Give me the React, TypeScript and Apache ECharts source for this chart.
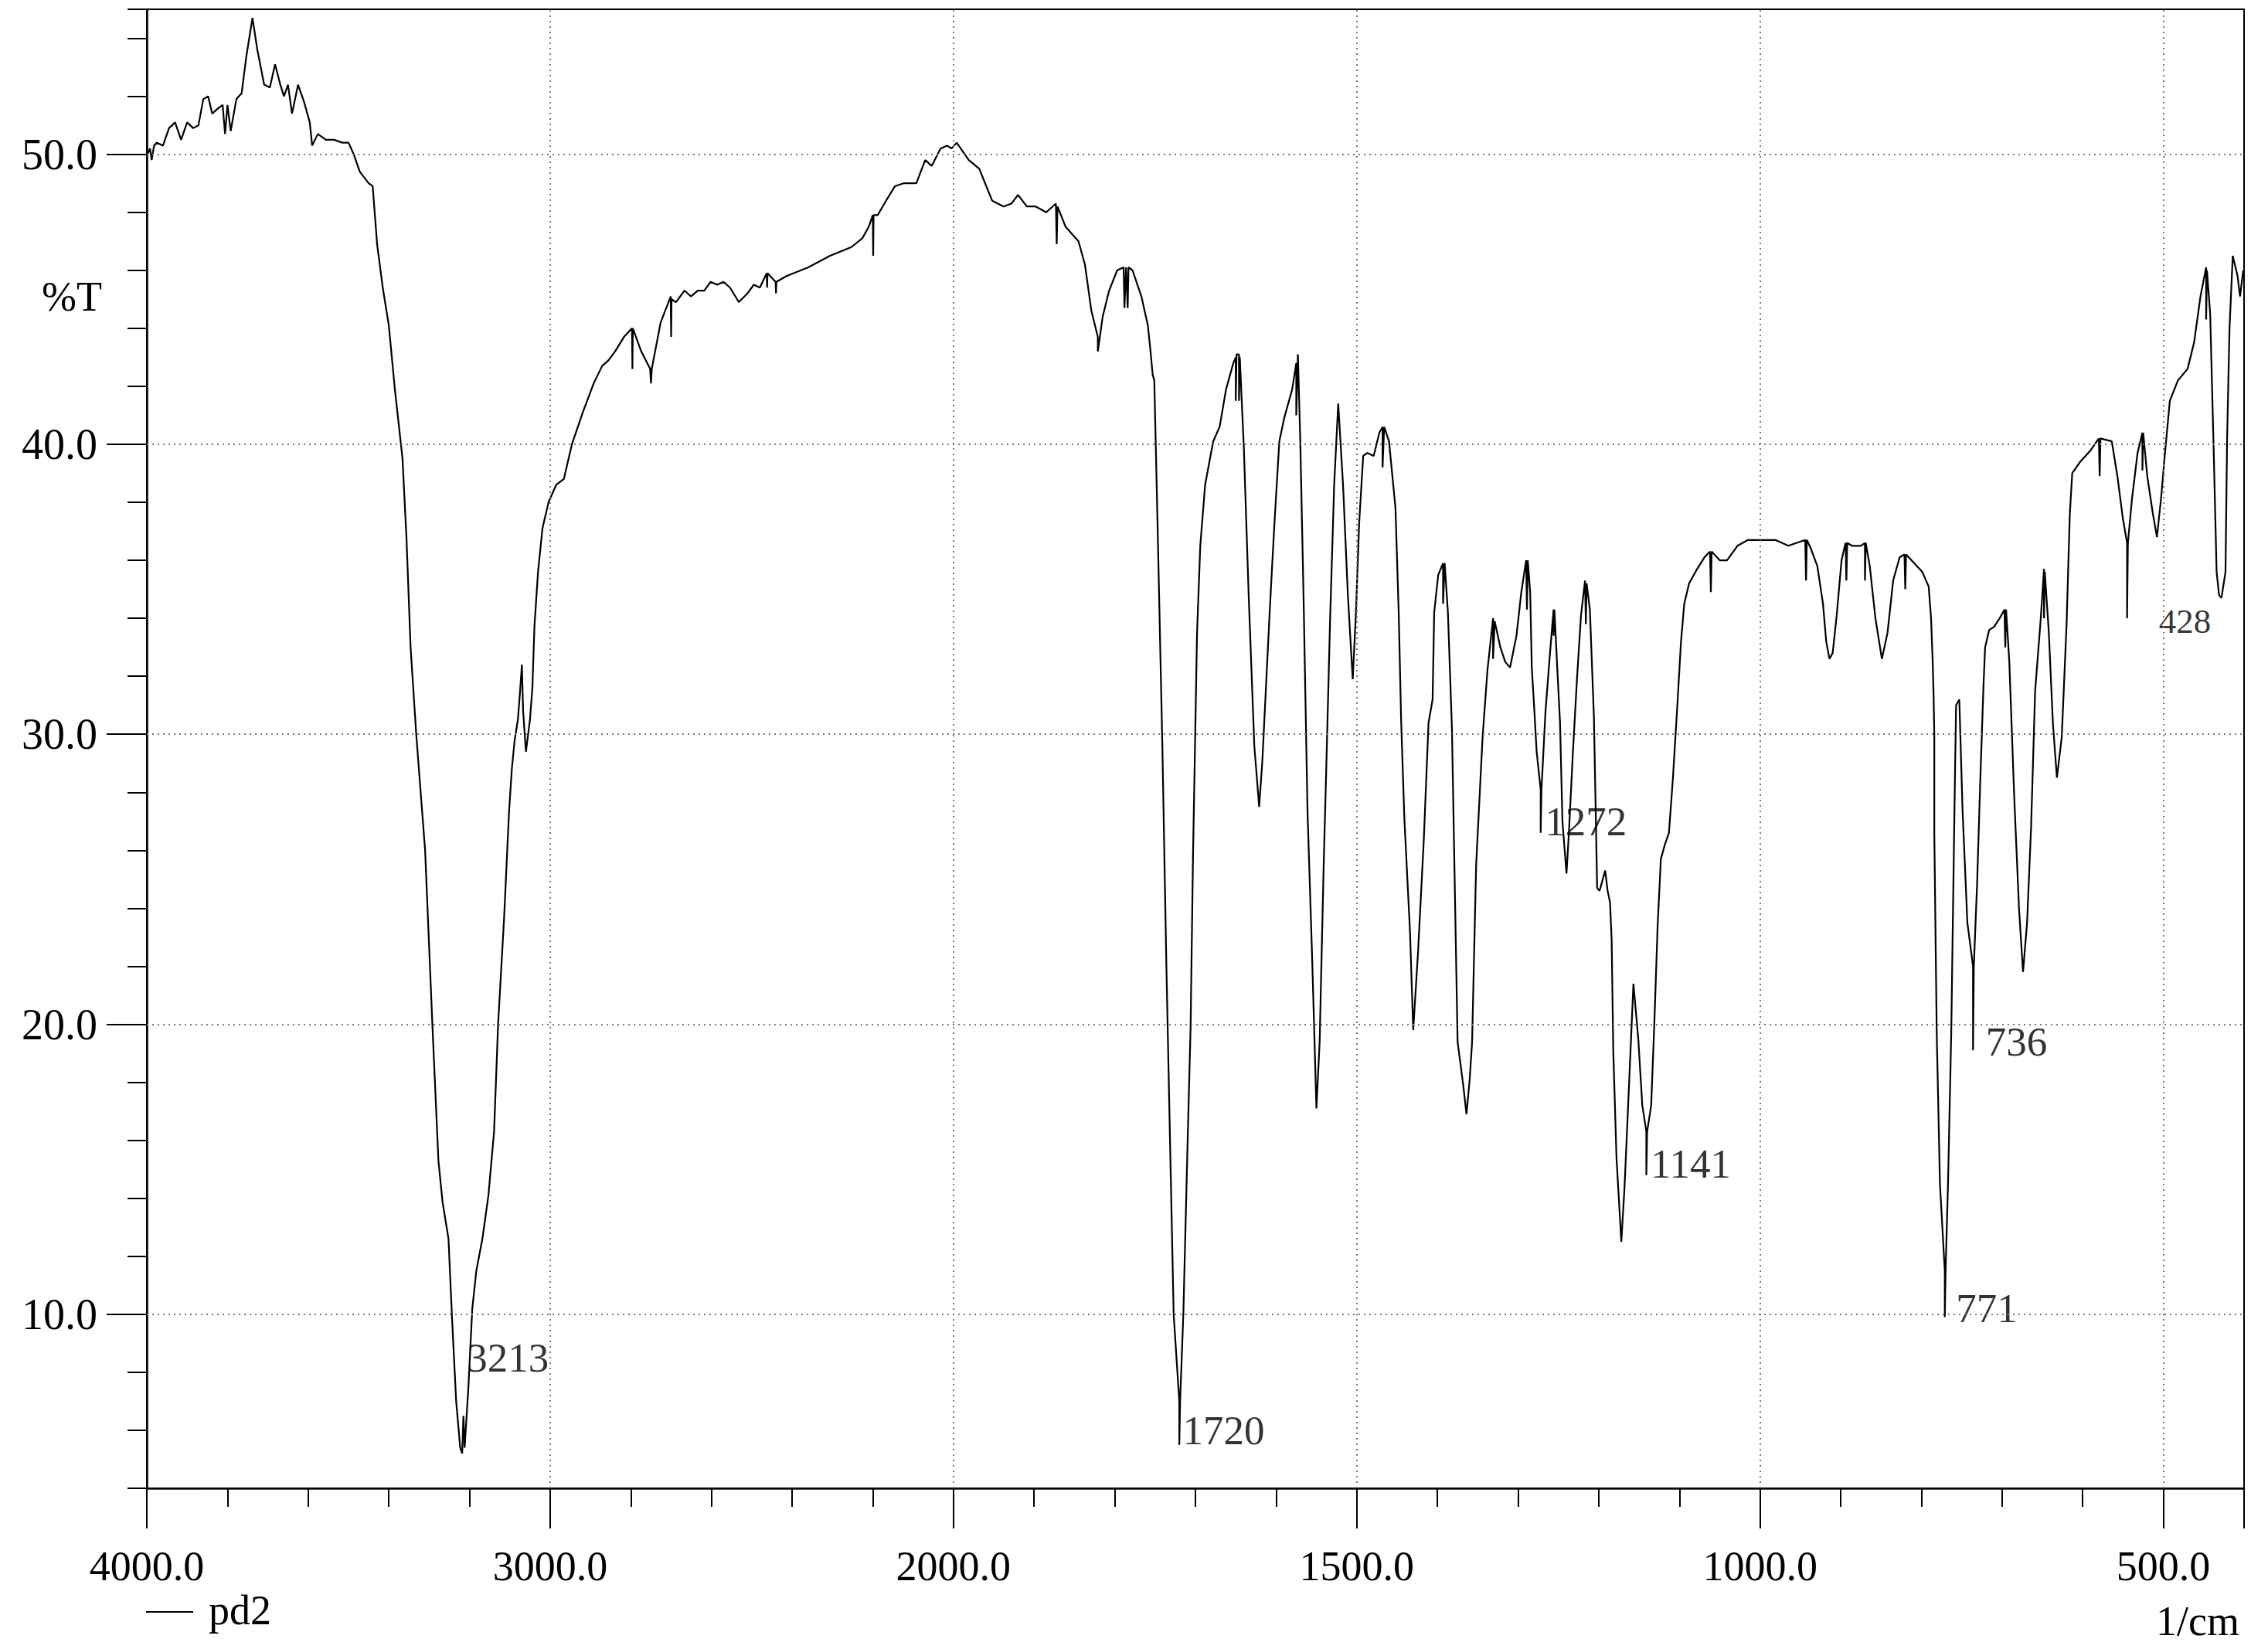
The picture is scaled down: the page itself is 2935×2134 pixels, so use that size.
import React, { useEffect, useRef } from "react";
import * as echarts from "echarts";

// ---- spectrum data (wavenumber in 1/cm, transmittance in %T) ----
const highWn = [3998,3992,3988,3982,3975,3960,3945,3930,3915,3900,3885,3872,3860,3848,3838,3822,3812,3806,3800,3792,3778,3765,3753,3738,3726,3709,3695,3682,3669,3660,3650,3640,3625,3610,3596,3590,3576,3556,3536,3515,3500,3487,3472,3450,3440,3429,3415,3400,3385,3366,3356,3346,3332,3310,3292,3277,3267,3252,3243,3233,3223,3218,3215,3212,3203,3193,3183,3168,3153,3139,3129,3114,3102,3095,3088,3080,3075,3070,3067,3060,3050,3044,3039,3030,3019,3004,2985,2966,2946,2919,2892,2871,2855,2839,2817,2797,2796,2795,2774,2752,2750,2748,2726,2701,2700,2699,2688,2667,2651,2634,2618,2602,2586,2570,2554,2532,2511,2495,2480,2463,2462,2461,2441,2440,2439,2414,2360,2306,2253,2226,2210,2200,2199,2198,2188,2167,2145,2124,2092,2070,2054,2032,2016,2005];
const highT = [50.0,50.2,49.8,50.3,50.4,50.3,50.9,51.1,50.5,51.1,50.9,51.0,51.9,52.0,51.4,51.6,51.7,50.7,51.7,50.8,51.9,52.1,53.4,54.7,53.6,52.4,52.3,53.1,52.4,52.0,52.4,51.4,52.4,51.8,51.1,50.3,50.7,50.5,50.5,50.4,50.4,50.0,49.4,49.0,48.9,46.9,45.4,44.1,41.9,39.5,36.7,33.0,30.0,26.0,20.0,15.3,13.9,12.6,9.8,7.0,5.4,5.2,6.5,5.4,7.4,10.2,11.5,12.6,14.1,16.3,20.0,23.7,27.3,28.8,29.8,30.5,31.4,32.4,30.8,29.4,30.5,31.6,33.7,35.6,37.1,38.0,38.6,38.8,40.0,41.1,42.1,42.7,42.9,43.2,43.7,44.0,42.6,44.0,43.2,42.6,42.1,42.6,44.2,45.1,43.7,45.0,44.9,45.3,45.1,45.3,45.3,45.6,45.5,45.6,45.4,44.9,45.2,45.5,45.4,45.9,45.4,45.9,45.6,45.2,45.6,45.8,46.1,46.5,46.8,47.1,47.5,47.9,46.5,47.9,47.9,48.4,48.9,49.0,49.0,49.8,49.6,50.2,50.3,50.2];

const midWn = [1996,1981,1968,1952,1938,1928,1920,1909,1898,1885,1873,1872,1871,1861,1845,1837,1829,1821,1821,1815,1807,1797,1789,1788,1786,1784,1783,1778,1767,1759,1756,1753,1751,1747,1741,1736,1727,1720,1720,1719,1715,1710,1706,1703,1698,1694,1688,1678,1670,1662,1653,1650,1650,1649,1646,1646,1645,1640,1634,1627,1621,1617,1608,1602,1596,1590,1580,1575,1575,1573,1570,1566,1561,1555,1550,1546,1541,1538,1533,1528,1523,1517,1511,1505,1501,1497,1492,1487,1479,1472,1468,1468,1466,1460,1452,1448,1445,1441,1434,1430,1424,1417,1411,1406,1404,1399,1393,1393,1391,1387,1382,1375,1368,1364,1360,1357,1352,1344,1338,1331,1331,1329,1322,1316,1310,1302,1296,1290,1289,1288,1285,1283,1280,1277,1272,1272,1271,1266,1261,1256,1256,1255,1252,1248,1245,1240,1237,1232,1227,1222,1217,1216,1215,1211,1208,1206,1204,1202,1199,1195,1192,1189,1186,1184,1182,1178,1172,1168,1162,1157,1151,1146,1141,1141,1140,1135,1131,1127,1123,1118,1113,1108,1103,1098,1094,1088,1078,1069,1062,1061,1060,1050,1041,1028,1015,1000];
const midT = [50.4,49.8,49.5,48.4,48.2,48.3,48.6,48.2,48.2,48.0,48.3,46.9,48.2,47.5,47.0,46.2,44.6,43.7,43.2,44.4,45.3,46.0,46.1,44.7,46.1,44.7,46.1,46.0,45.1,44.1,43.3,42.4,42.2,37.3,29.6,22.0,10.0,7.0,5.5,7.0,10.0,15.6,19.9,25.8,33.5,36.5,38.6,40.1,40.6,41.9,42.8,43.0,41.5,43.1,43.1,41.5,43.0,39.9,34.8,29.6,27.5,29.1,34.2,37.3,40.1,40.9,41.9,42.8,41.0,43.1,40.1,34.8,27.3,22.0,17.1,19.4,25.5,28.6,34.0,38.6,41.4,38.6,34.8,31.9,34.2,37.3,39.6,39.7,39.6,40.4,40.6,39.2,40.6,40.1,37.8,34.2,30.5,27.1,23.2,19.8,22.5,26.3,30.4,31.2,34.2,35.5,35.9,34.5,35.9,34.2,30.2,19.4,17.9,16.9,18.1,19.4,25.5,29.9,32.2,34.0,32.6,33.9,33.0,32.5,32.3,33.4,34.9,36.0,34.3,36.0,34.9,32.3,30.9,29.4,28.1,26.6,28.1,30.8,32.6,34.3,33.4,34.3,32.6,30.4,27.0,25.2,26.6,29.4,31.9,34.1,35.3,33.8,35.2,34.3,32.1,30.6,27.7,24.7,24.6,25.0,25.3,24.6,24.2,22.9,19.1,15.4,12.5,14.4,18.2,21.4,19.5,17.2,16.3,14.8,16.3,17.2,20.1,23.4,25.7,26.2,26.6,28.5,30.8,33.2,34.5,35.2,35.7,36.1,36.3,34.9,36.3,36.0,36.0,36.5,36.7,36.7];

const lowWn = [981,965,944,943,942,937,929,922,918,914,910,905,899,894,893,892,886,875,870,870,869,864,857,849,842,835,827,821,820,819,809,799,791,788,786,785,784,784,781,777,771,771,770,767,763,759,757,753,749,743,736,736,735,731,727,723,721,716,710,703,697,696,695,691,685,679,674,669,664,659,652,648,648,647,642,637,632,626,620,616,613,603,590,580,579,578,564,557,550,545,545,544,539,532,526,526,525,520,513,508,503,498,492,482,470,462,454,447,447,446,442,438,434,431,428,423,421,418,414,408,405,401];
const lowT = [36.7,36.5,36.7,35.3,36.7,36.4,35.8,34.5,33.2,32.6,32.8,34.1,36.0,36.6,35.3,36.6,36.5,36.5,36.6,35.3,36.6,35.8,34.0,32.6,33.5,35.3,36.1,36.2,35.0,36.2,35.9,35.6,35.1,34.0,32.5,31.5,30.0,26.6,19.7,14.5,11.5,9.9,11.5,14.5,19.7,27.4,31.0,31.2,27.4,23.5,22.0,19.1,22.0,24.8,28.4,31.7,33.0,33.6,33.7,34.0,34.3,33.0,34.3,32.5,27.9,24.0,21.8,23.5,26.8,31.5,34.0,35.7,34.0,35.6,33.5,30.4,28.5,29.9,33.8,37.6,39.0,39.4,39.8,40.2,38.9,40.2,40.1,38.9,37.4,36.6,34.0,36.6,38.1,39.7,40.4,39.1,40.4,38.9,37.6,36.8,38.1,39.7,41.5,42.2,42.6,43.5,45.1,46.1,44.3,46.0,44.5,40.2,35.6,34.8,34.7,35.6,40.2,44.0,46.5,45.8,45.1,46.0];

// ---- peak annotations ----
const peakWn = [3213, 1720, 1272, 1141, 771, 736, 428];
const peakLabelT = [8.5, 6.0, 27.0, 15.2, 10.2, 19.4, 33.9];
const peakLabelSide = ["right", "right", "right", "right", "right", "right", "left"];
const peakLabelGap = [3, 4, 5, 5, 14, 16, 13];
const peakLabelSize = [53, 53, 53, 53, 53, 53, 45];

// ---- axes ----
const gridT = [10, 20, 30, 40, 50];
const gridWn = [3000, 2000, 1500, 1000, 500];
const yMajorTicks = [10, 20, 30, 40, 50];

// 4000-2000 drawn at half the scale of 2000-400 (instrument's two-scale axis)
const toU = (nu: number) => (nu >= 2000 ? (4000 - nu) / 2 : 1000 + (2000 - nu));
const fromU = (u: number) => (u <= 1000 ? 4000 - 2 * u : 3000 - u);

const FONT = '"Liberation Serif", "Times New Roman", serif';

export default function App() {
  const ref = useRef<HTMLDivElement>(null);
  useEffect(() => {
    if (!ref.current) return;
    const chart = echarts.init(ref.current, null, { renderer: "svg" });
    const wn = [...highWn, ...midWn, ...lowWn];
    const tr = [...highT, ...midT, ...lowT];
    const spectrum = wn.map((n, i) => [toU(n), tr[i]]);
    const peaks = peakWn.map((n, i) => ({
      name: String(n),
      value: [toU(n), peakLabelT[i]],
      label: {
        position: peakLabelSide[i],
        distance: peakLabelGap[i],
        fontSize: peakLabelSize[i],
      },
    }));
    chart.setOption({
      animation: false,
      backgroundColor: "#fff",
      grid: {
        left: 190,
        right: 31,
        top: 12,
        bottom: 208,
        show: true,
        borderColor: "#000",
        borderWidth: 2,
        backgroundColor: "transparent",
        containLabel: false,
        outerBoundsMode: "none",
      },
      xAxis: {
        type: "value",
        min: 0,
        max: 2600,
        interval: 500,
        axisLine: { show: true, lineStyle: { color: "#000", width: 2.5 } },
        axisTick: { show: true, length: 52, lineStyle: { color: "#000", width: 2 } },
        minorTick: { show: true, splitNumber: 5, length: 24, lineStyle: { color: "#000", width: 2 } },
        splitLine: { show: false },
        minorSplitLine: { show: false },
        axisLabel: {
          margin: 74,
          fontSize: 54,
          fontFamily: FONT,
          color: "#000",
          showMinLabel: true,
          showMaxLabel: true,
          formatter: (u: number) => (u >= 2600 ? "" : fromU(u).toFixed(1)),
        },
      },
      yAxis: [
        {
          type: "value",
          min: 4,
          max: 55,
          interval: 2,
          position: "left",
          axisLine: { show: true, lineStyle: { color: "#000", width: 2.5 } },
          axisTick: { show: true, length: 25, lineStyle: { color: "#000", width: 2 } },
          splitLine: { show: false },
          axisLabel: {
            margin: 64,
            fontSize: 56,
            fontFamily: FONT,
            color: "#000",
            formatter: (v: number) => (Math.abs(v % 10) < 1e-9 ? v.toFixed(1) : ""),
          },
        },
        {
          type: "value",
          min: 4,
          max: 55,
          position: "left",
          offset: 0,
          axisLine: { show: false },
          axisTick: {
            show: true,
            length: 52,
            customValues: yMajorTicks,
            lineStyle: { color: "#000", width: 2 },
          },
          axisLabel: { show: false },
          splitLine: { show: false },
        },
      ],
      graphic: [
        {
          type: "text",
          x: 54,
          y: 384,
          style: { text: "%T", font: `54px ${FONT}`, fill: "#000", textVerticalAlign: "middle" },
        },
        {
          type: "line",
          shape: { x1: 189, y1: 2086, x2: 250, y2: 2086 },
          style: { stroke: "#000", lineWidth: 2 },
        },
        {
          type: "text",
          x: 270,
          y: 2084,
          style: { text: "pd2", font: `54px ${FONT}`, fill: "#000", textVerticalAlign: "middle" },
        },
        {
          type: "text",
          x: 2898,
          y: 2098,
          style: {
            text: "1/cm",
            font: `54px ${FONT}`,
            fill: "#000",
            textAlign: "right",
            textVerticalAlign: "middle",
          },
        },
      ],
      series: [
        {
          name: "gridlines",
          type: "line",
          data: [],
          z: 1,
          silent: true,
          markLine: {
            silent: true,
            symbol: "none",
            label: { show: false },
            lineStyle: { type: [2, 5], color: "#777", width: 2 },
            data: [
              ...gridT.map((v) => ({ yAxis: v })),
              ...gridWn.map((n) => ({ xAxis: toU(n) })),
            ],
          },
        },
        {
          name: "pd2",
          type: "line",
          data: spectrum,
          showSymbol: false,
          symbol: "none",
          z: 3,
          silent: true,
          lineStyle: { color: "#000", width: 2.2 },
        },
        {
          name: "peaks",
          type: "scatter",
          data: peaks,
          symbolSize: 1,
          z: 4,
          silent: true,
          itemStyle: { color: "rgba(0,0,0,0)" },
          label: {
            show: true,
            formatter: "{b}",
            fontFamily: FONT,
            color: "#000",
            fontSize: 53,
          },
        },
      ],
    });
    return () => chart.dispose();
  }, []);
  return (
    <div
      ref={ref}
      style={{ position: "fixed", left: 0, top: 0, width: 2935, height: 2134, background: "#fff" }}
    />
  );
}
